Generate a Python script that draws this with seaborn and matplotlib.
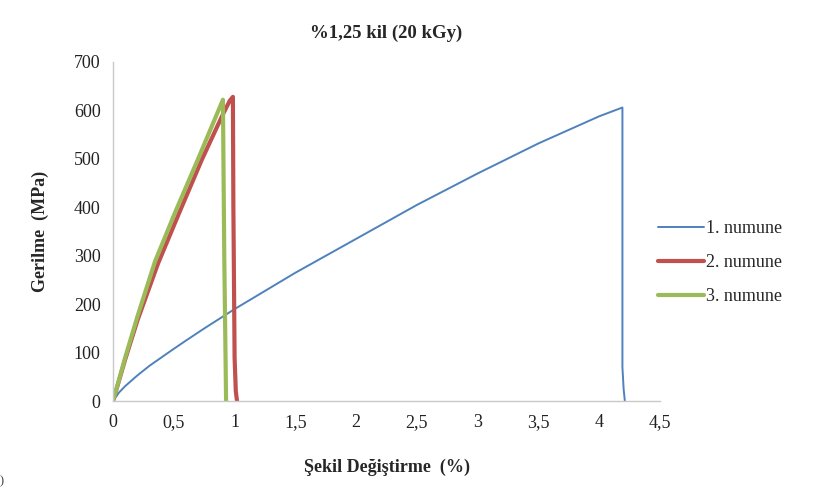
import pandas as pd
import matplotlib.pyplot as plt
import seaborn as sns

# data
strain_1 = [0, 0.05, 0.1, 0.2, 0.3, 0.5, 0.6, 0.75, 1.0, 1.5, 2.0, 2.5, 3.0, 3.5, 4.0, 4.19, 4.19, 4.2, 4.21]
stress_1 = [0, 18, 31, 53, 73, 108, 125, 150, 190, 265, 335, 405, 470, 532, 588, 606, 70, 25, 0]

strain_2 = [0, 0.1, 0.2, 0.37, 0.55, 0.73, 0.9, 0.96, 0.986, 0.99, 1.0, 1.01, 1.02]
stress_2 = [0, 86, 166, 284, 392, 498, 590, 620, 628, 400, 90, 20, 0]

strain_3 = [0, 0.1, 0.2, 0.345, 0.52, 0.7, 0.904, 0.915, 0.93]
stress_3 = [0, 90, 174, 288, 395, 500, 622, 300, 0]

series_names = ["1. numune", "2. numune", "3. numune"]
x_ticks = [0, 0.5, 1, 1.5, 2, 2.5, 3, 3.5, 4, 4.5]
x_tick_labels = ["0", "0,5", "1", "1,5", "2", "2,5", "3", "3,5", "4", "4,5"]
y_ticks = [0, 100, 200, 300, 400, 500, 600, 700]

sns.set_theme(style="white")
plt.rcParams["font.family"] = ["Liberation Serif", "DejaVu Serif"]

fig = plt.figure(figsize=(8.19, 4.88), dpi=100)
ax = fig.add_axes([0.138, 0.178, 0.668, 0.695])

colors = ["#4F81BD", "#C0504D", "#9BBB59"]
widths = [1.4, 3.0, 3.0]
all_x = [strain_1, strain_2, strain_3]
all_y = [stress_1, stress_2, stress_3]

for name, xs, ys, c, w in zip(series_names, all_x, all_y, colors, widths):
    df = pd.DataFrame({"strain": xs, "stress": ys})
    sns.lineplot(data=df, x="strain", y="stress", sort=False, estimator=None,
                 color=c, lw=w, label=name, ax=ax)

ax.set_xlim(0, 4.5)
ax.set_ylim(0, 700)
ax.set_xticks(x_ticks)
ax.set_xticklabels(x_tick_labels)
ax.set_yticks(y_ticks)
ax.tick_params(axis="both", labelsize=13, length=0, pad=9, colors="#222222")

for side in ["top", "right"]:
    ax.spines[side].set_visible(False)
for side in ["left", "bottom"]:
    ax.spines[side].set_color("#c8c8c8")
    ax.spines[side].set_linewidth(1.0)

ax.set_title("%1,25 kil (20 kGy)", fontsize=13.5, fontweight="bold", pad=17)
ax.set_xlabel("Şekil Değiştirme  (%)", fontsize=13, fontweight="bold", labelpad=20)
ax.set_ylabel("Gerilme  (MPa)", fontsize=13, fontweight="bold", labelpad=18)

ax.get_legend().remove()
handles, labels = ax.get_legend_handles_labels()
fig.legend(handles, labels, loc="center left", bbox_to_anchor=(0.783, 0.462),
           frameon=False, fontsize=13, handlelength=2.6, handletextpad=0.1,
           labelspacing=0.95)

fig.text(0.0, 0.008, ")", fontsize=9, color="#333333")

fig.savefig("out.png", dpi=100)
